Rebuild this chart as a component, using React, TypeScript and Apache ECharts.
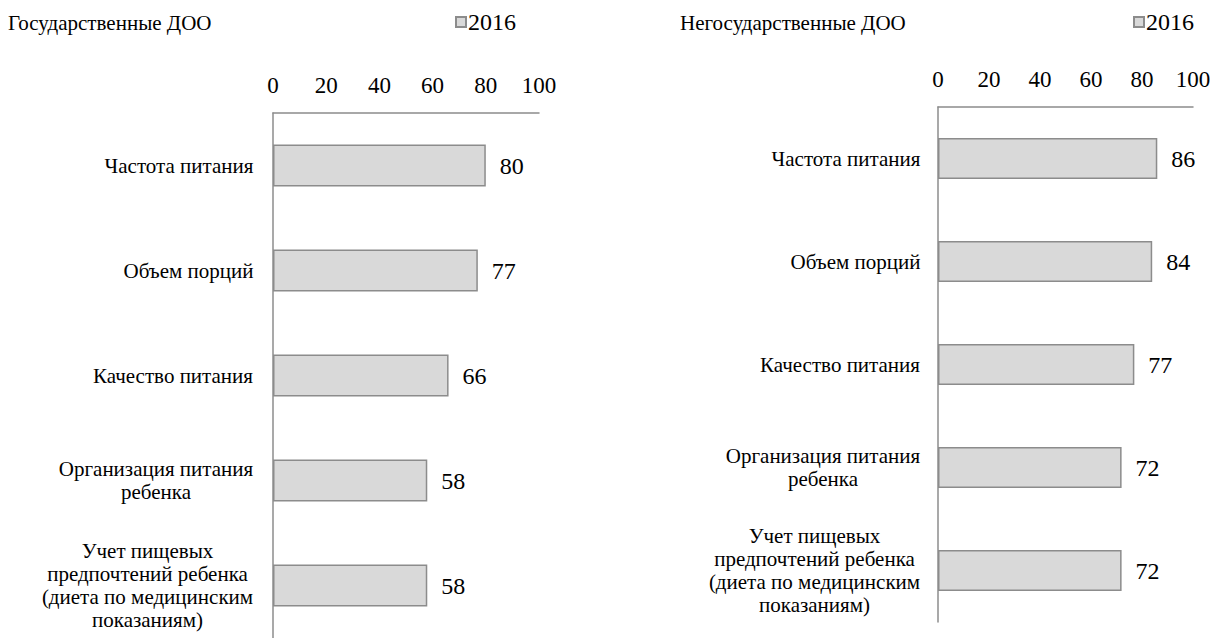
import React, { useEffect, useRef } from "react";
import * as echarts from "echarts";

const categories = [
  "Частота питания",
  "Объем порций",
  "Качество питания",
  "Организация питания\nребенка",
  "Учет пищевых\nпредпочтений ребенка\n(диета по медицинским\nпоказаниям)",
];
const stateValues = [80, 77, 66, 58, 58];
const privateValues = [86, 84, 77, 72, 72];
const titles = ["Государственные ДОО", "Негосударственные ДОО"];
const seriesName = "2016";
const axisMin = 0;
const axisMax = 100;
const axisStep = 20;

const FONT = "'Liberation Serif', 'Times New Roman', serif";
const CAT_SIZE = 21;

function measure(text: string, size: number): number {
  const c = document.createElement("canvas");
  const ctx = c.getContext("2d");
  if (!ctx) return text.length * size * 0.5;
  ctx.font = `${size}px ${FONT}`;
  return ctx.measureText(text).width;
}

export default function App() {
  const ref = useRef<HTMLDivElement>(null);
  useEffect(() => {
    if (!ref.current) return;
    const chart = echarts.init(ref.current, undefined, { renderer: "svg" });
    const rich: Record<string, any> = {};
    categories.forEach((c, i) => {
      const w = Math.max(...c.split("\n").map((l) => measure(l, CAT_SIZE)));
      rich["c" + i] = {
        width: Math.ceil(w) + 1,
        align: "center",
        fontSize: CAT_SIZE,
        fontFamily: FONT,
        color: "#000",
        lineHeight: 23,
      };
    });
    const catFormatter = (v: string, idx: number) =>
      v
        .split("\n")
        .map((l) => `{c${idx}|${l}}`)
        .join("\n");

    const grids = [
      { left: 273, top: 113, width: 266, height: 527 },
      { left: 938, top: 107, width: 255, height: 515 },
    ];
    const barStyle = {
      color: "#d9d9d9",
      borderColor: "#8c8c8c",
      borderWidth: 1.5,
    };
    const axisLineStyle = { color: "#8c8c8c", width: 1.5 };
    const txt = { color: "#000", fontFamily: FONT };

    chart.setOption({
      animation: false,
      textStyle: { fontFamily: FONT },
      title: [
        {
          text: titles[0],
          left: 8,
          top: 12,
          padding: 0,
          textStyle: { ...txt, fontSize: 21, fontWeight: "normal" },
        },
        {
          text: titles[1],
          left: 680,
          top: 12,
          padding: 0,
          textStyle: { ...txt, fontSize: 21, fontWeight: "normal" },
        },
      ],
      legend: [455, 1133].map((x) => ({
        data: [seriesName],
        left: x,
        top: 10,
        padding: 0,
        icon: "rect",
        itemWidth: 10,
        itemHeight: 10,
        itemGap: 2,
        textStyle: { ...txt, fontSize: 24, padding: [0, 0, 0, -3] },
      })),
      grid: grids,
      xAxis: grids.map((_, i) => ({
        type: "value",
        gridIndex: i,
        position: "top",
        min: axisMin,
        max: axisMax,
        interval: axisStep,
        axisLine: { show: true, lineStyle: axisLineStyle },
        axisTick: { show: false },
        splitLine: { show: false },
        axisLabel: { ...txt, fontSize: 23, margin: 16 },
      })),
      yAxis: grids.map((_, i) => ({
        type: "category",
        gridIndex: i,
        inverse: true,
        data: categories,
        axisLine: { show: true, lineStyle: axisLineStyle },
        axisTick: { show: false },
        splitLine: { show: false },
        axisLabel: {
          margin: i === 0 ? 19 : 17,
          formatter: catFormatter,
          rich,
          fontSize: CAT_SIZE,
          fontFamily: FONT,
          color: "#000",
          lineHeight: 23,
        },
      })),
      series: [stateValues, privateValues].map((vals, i) => ({
        type: "bar",
        name: seriesName,
        xAxisIndex: i,
        yAxisIndex: i,
        data: vals,
        barWidth: "40%",
        itemStyle: barStyle,
        label: {
          show: true,
          position: "right",
          distance: 14,
          ...txt,
          fontSize: 24,
        },
      })),
    });
    return () => chart.dispose();
  }, []);
  return (
    <div
      ref={ref}
      style={{ position: "fixed", left: 0, top: 0, width: 1214, height: 638, background: "#fff" }}
    />
  );
}
